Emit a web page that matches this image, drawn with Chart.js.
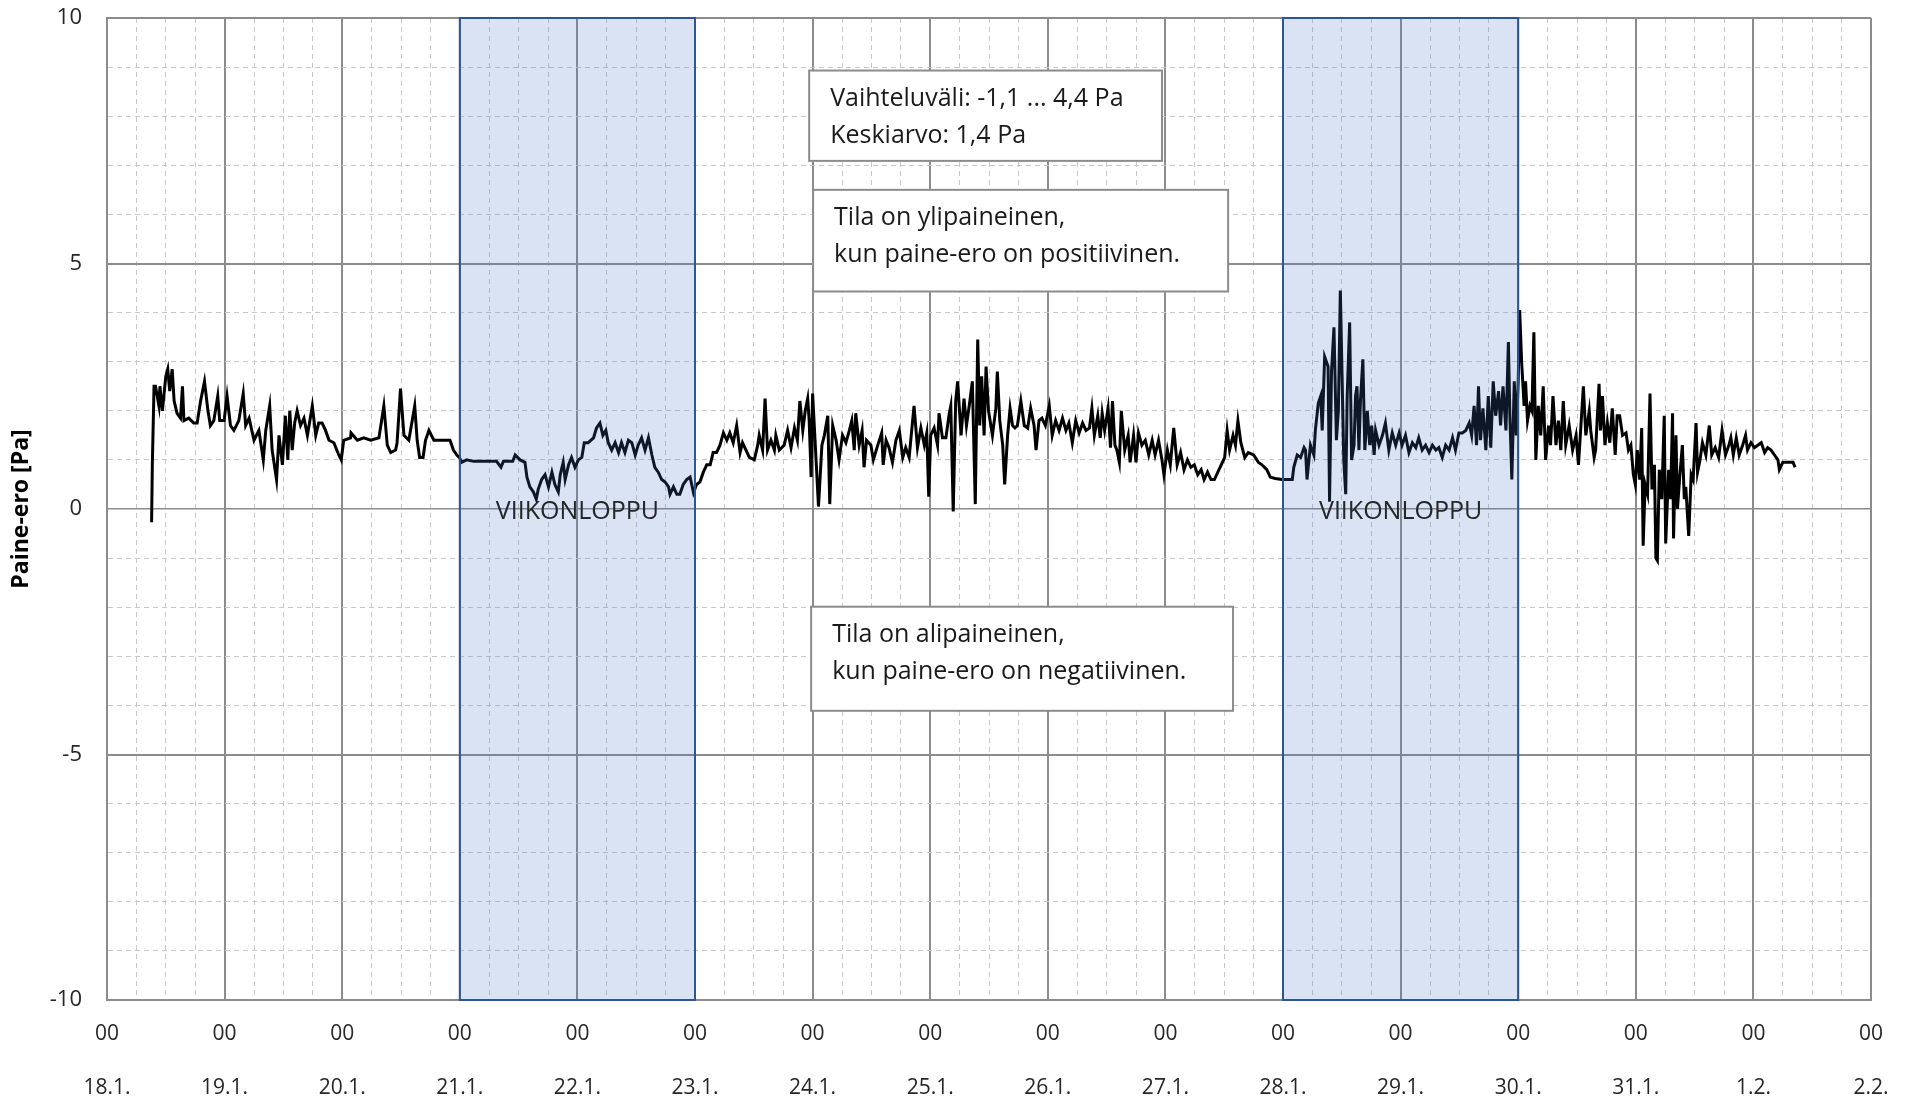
<!DOCTYPE html>
<html>
<head>
<meta charset="utf-8">
<title>Paine-ero</title>
<script src="https://cdn.jsdelivr.net/npm/chart.js@4.4.1/dist/chart.umd.min.js"></script>
<style>
  body { margin: 0; background: #ffffff; }
  #chart { display: block; }
</style>
</head>
<body>
<canvas id="chart" width="1910" height="1101"></canvas>
<script>
// measurement time, hours from 18.1. 00:00
const hours = [
  9.1, 9.25, 9.6, 9.9, 10.6, 10.8, 11.3, 12.0, 12.4, 12.8, 13.3, 13.7, 14.3, 15.0, 15.4, 15.7, 16.7, 17.7, 18.4, 19.1,
  19.9, 20.6, 21.1, 21.8, 22.6, 23.0, 23.9, 24.5, 25.2, 25.9, 26.9, 27.8, 28.3, 29.0, 30.0, 31.0, 31.9, 32.4, 33.2, 33.7,
  34.6, 35.1, 35.8, 36.4, 36.9, 37.3, 37.8, 38.3, 38.8, 39.5, 40.2, 40.9, 41.9, 42.6, 43.2, 43.9, 44.6, 45.3, 46.3, 47.3,
  47.8, 48.3, 49.7, 49.8, 51.1, 52.4, 53.8, 55.5, 56.5, 57.2, 57.9, 58.9, 59.2, 59.9, 60.6, 61.6, 62.8, 63.3, 63.8, 64.5,
  65.0, 65.7, 66.7, 68.1,
  70.0, 70.7, 71.4, 71.9, 72.4, 73.4, 74.8, 76.1, 79.5, 80.4, 80.9, 82.8, 83.3, 84.3, 85.3, 85.7, 86.3, 87.0, 87.6, 88.0,
  88.7, 89.4, 90.1, 90.8, 91.4, 92.1, 92.5, 93.1, 93.5, 94.2, 94.8, 95.5, 96.2, 96.9, 97.4, 98.2, 99.3, 99.9, 100.6, 101.2,
  101.8, 102.3, 103.0, 103.7, 104.4, 105.0, 105.7, 106.4, 107.1, 107.8, 108.4, 109.1, 109.8, 110.5, 111.2, 111.8, 112.5, 113.2, 113.9, 114.6,
  114.9, 115.6, 116.3, 116.9, 117.6, 118.3, 119.0, 119.7, 120.3, 121.0, 121.7, 122.4, 123.1, 123.7, 124.4, 125.1, 125.8, 126.5, 127.1, 127.8,
  128.5, 129.2,
  129.7, 130.4, 131.1, 132.1, 132.8, 133.1, 133.8, 134.3, 134.8, 135.5, 136.2, 136.5, 137.2, 138.2, 138.9, 139.6, 140.3, 140.9, 141.4, 142.0,
  142.5, 143.0, 143.3, 143.7, 144.0, 144.5, 145.2, 145.9, 146.4, 147.1, 147.5, 148.1, 148.8, 149.4, 150.1, 150.8, 151.5, 152.0, 152.5, 152.8,
  153.5, 154.1, 154.5, 155.0, 155.9, 156.4, 157.3, 158.1, 158.4, 159.0, 159.6, 160.3, 161.0, 161.7, 162.4, 163.0, 163.7, 164.7, 165.4, 166.1,
  166.8, 167.3, 167.7, 168.1, 168.8, 169.5, 169.8, 170.5, 171.2, 171.9, 172.2, 172.7, 173.2, 173.6, 174.3, 174.9, 175.4, 176.1, 176.6, 177.2,
  177.7, 178.1, 178.5, 179.0, 179.4, 179.9, 180.7, 181.4, 181.7, 182.2, 182.8, 183.2, 183.8, 184.3, 184.8, 185.3, 185.8, 186.5, 187.2, 187.9,
  188.5, 189.2, 189.6, 190.2,
  190.8, 191.5, 192.3, 192.9, 193.6, 194.3, 195.0, 195.7, 196.3, 197.0, 197.7, 198.4, 199.1, 199.8, 200.5, 201.0, 201.5, 202.2, 202.7, 203.1,
  203.6, 204.3, 204.8, 205.2, 205.7, 206.1, 206.6, 207.0, 207.7, 208.4, 208.8, 209.5, 210.0, 210.5, 211.2, 211.9, 212.6, 213.3, 213.9, 214.6,
  215.3, 215.7, 216.4, 217.0, 217.7, 218.4, 219.1, 219.8, 220.5, 221.2, 221.9, 222.6, 223.3, 223.9, 224.6, 225.3, 226.0, 226.7, 227.4, 228.1,
  228.6, 229.1, 229.8, 230.3, 230.8, 231.4, 232.2, 232.9, 234.0, 235.0, 235.7, 236.7, 237.4, 238.4, 239.8, 240.9,
  241.9, 242.2, 242.9, 243.6, 244.3, 244.6, 244.9, 245.6, 246.3, 246.6, 247.2, 247.7, 248.0, 248.5, 249.2, 249.5, 249.9, 250.4, 250.9, 251.3,
  251.7, 252.1, 252.4, 252.8, 253.1, 253.6, 254.0, 254.5, 254.8, 255.1, 255.5, 255.8, 256.3, 256.7, 257.2, 257.7, 258.1, 258.6, 258.9, 259.6,
  260.3, 260.9, 261.6, 262.3, 263.0, 263.7, 264.3, 265.0, 265.7, 266.4, 267.1, 267.7, 268.4, 269.1, 269.8, 270.5, 271.2, 271.8, 272.5, 273.2,
  273.9, 274.6, 275.2, 275.9, 276.6, 277.3, 278.0, 278.5, 279.0, 279.5, 279.9, 280.3, 280.8, 281.4, 281.9, 282.4, 282.9, 283.4, 284.0, 284.4,
  284.9, 285.5, 286.0, 286.3, 286.7, 287.2, 287.6, 288.0, 288.3, 288.7, 289.2, 289.5, 289.9, 290.4, 290.8, 291.2, 291.6, 292.1, 292.6, 293.1,
  293.6, 294.2, 294.6, 295.1, 295.7, 296.2, 296.7, 297.2, 297.7, 298.4, 299.1, 299.8, 300.3, 300.8, 301.3, 301.8, 302.5,
  302.8, 303.5, 303.8, 304.5, 304.8, 305.2, 305.7, 306.2, 306.7, 307.2, 307.8, 308.2, 308.7, 309.3, 310.0, 310.5, 311.0, 311.5, 311.9, 312.3,
  312.8, 313.2, 313.5, 313.9, 314.4, 314.9, 315.3, 315.8, 316.1, 316.4, 316.8, 317.3, 317.8, 318.1, 318.7, 319.1, 319.5, 319.7, 320.2, 320.5,
  321.0, 321.5, 321.9, 322.2, 322.8, 323.3, 323.7, 324.3, 324.6, 325.1, 325.6, 326.3, 327.0, 327.5, 328.2, 328.9, 329.6, 330.3, 331.0, 331.4,
  331.9, 332.5, 333.1, 333.8, 334.4, 334.8, 335.5, 336.2, 336.9, 337.6, 338.3, 338.9, 339.6, 340.3, 341.0, 341.3, 342.0, 343.0, 344.1, 344.5
];

// paine-ero [Pa]
const paine = [
  -0.27, 0.9, 2.5, 2.5, 2.1, 2.5, 2.0, 2.7, 2.85, 2.4, 2.85, 2.2, 1.95, 1.85, 2.5, 1.8, 1.85, 1.75, 1.75, 2.2,
  2.6, 2.0, 1.7, 1.8, 2.3, 1.8, 1.8, 2.3, 1.7, 1.6, 1.8, 2.35, 1.7, 1.85, 1.4, 1.6, 1.0, 1.6, 2.1, 1.2,
  0.6, 1.5, 0.9, 1.9, 1.0, 2.0, 1.2, 1.75, 2.0, 1.7, 1.85, 1.5, 2.1, 1.5, 1.75, 1.75, 1.6, 1.4, 1.35, 1.1,
  1.0, 1.4, 1.45, 1.55, 1.4, 1.45, 1.4, 1.45, 2.1, 1.3, 1.15, 1.2, 1.35, 2.45, 1.5, 1.4, 2.1, 1.4, 1.05, 1.05,
  1.4, 1.6, 1.4, 1.4,
  1.4, 1.2, 1.1, 1.05, 0.95, 1.0, 0.97, 0.97, 0.97, 0.85, 0.97, 0.97, 1.1, 1.0, 0.95, 0.65, 0.45, 0.35, 0.2, 0.4,
  0.6, 0.7, 0.45, 0.75, 0.5, 0.35, 0.7, 0.95, 0.6, 0.9, 1.05, 0.85, 1.0, 1.05, 1.35, 1.35, 1.45, 1.65, 1.75, 1.5,
  1.6, 1.35, 1.2, 1.35, 1.15, 1.35, 1.15, 1.4, 1.35, 1.1, 1.3, 1.45, 1.2, 1.45, 1.1, 0.85, 0.75, 0.6, 0.55, 0.45,
  0.3, 0.45, 0.3, 0.3, 0.5, 0.6, 0.65, 0.33, 0.5, 0.55, 0.75, 0.9, 0.9, 1.15, 1.15, 1.3, 1.55, 1.4, 1.55, 1.35,
  1.7, 1.15,
  1.35, 1.2, 1.05, 1.0, 1.3, 1.5, 1.2, 2.25, 1.2, 1.4, 1.2, 1.5, 1.2, 1.3, 1.6, 1.25, 1.65, 1.4, 2.2, 1.6,
  2.0, 2.25, 1.8, 0.65, 2.35, 1.4, 0.05, 1.3, 1.5, 1.9, 0.1, 1.7, 1.4, 1.0, 1.5, 1.35, 1.6, 1.8, 1.2, 1.95,
  1.3, 1.6, 0.85, 1.4, 1.3, 1.0, 1.3, 1.55, 0.9, 1.4, 1.25, 0.95, 1.4, 1.6, 1.05, 1.25, 1.05, 2.1, 1.25, 1.65,
  1.3, 1.55, 0.25, 1.5, 1.65, 1.3, 1.95, 1.45, 1.45, 1.95, 2.1, -0.05, 2.2, 2.6, 1.5, 2.25, 1.7, 2.2, 2.6, 0.1,
  3.45, 1.7, 2.7, 1.5, 2.9, 2.0, 1.5, 2.05, 2.8, 1.8, 1.3, 0.5, 1.5, 2.05, 1.7, 1.65, 1.7, 2.2, 1.7, 1.65,
  2.05, 1.7, 1.2, 1.8,
  1.85, 1.7, 2.1, 1.5, 1.8, 1.6, 1.85, 1.6, 1.75, 1.35, 1.8, 1.55, 1.75, 1.6, 1.65, 2.05, 1.5, 1.9, 1.45, 1.95,
  1.6, 2.05, 1.25, 2.2, 1.3, 1.2, 0.95, 2.0, 1.2, 1.5, 0.95, 1.5, 0.95, 1.55, 1.3, 1.4, 1.1, 1.4, 1.1, 1.4,
  1.0, 0.7, 1.2, 0.9, 1.65, 0.9, 1.15, 0.8, 1.0, 0.85, 0.9, 0.7, 0.8, 0.6, 0.75, 0.6, 0.6, 0.75, 0.9, 1.05,
  1.6, 1.2, 1.5, 1.3, 1.8, 1.35, 1.05, 1.15, 1.1, 0.95, 0.9, 0.8, 0.65, 0.62, 0.6, 0.6,
  0.6, 0.85, 1.1, 1.05, 1.25, 1.2, 0.6, 1.3, 1.1, 1.6, 2.15, 2.3, 1.6, 3.1, 2.9, 0.15, 2.8, 3.7, 1.4, 2.0,
  4.45, 2.5, 1.0, 0.3, 2.3, 3.8, 1.0, 1.3, 2.3, 2.5, 1.2, 2.2, 3.05, 1.2, 2.0, 1.3, 1.7, 1.1, 1.6, 1.3,
  1.5, 1.75, 1.2, 1.55, 1.3, 1.55, 1.3, 1.5, 1.15, 1.35, 1.25, 1.45, 1.2, 1.3, 1.15, 1.3, 1.2, 1.25, 1.05, 1.3,
  1.2, 1.45, 1.2, 1.55, 1.55, 1.6, 1.75, 1.5, 2.1, 1.3, 2.5, 1.4, 2.05, 1.2, 2.3, 1.25, 2.6, 1.9, 2.4, 1.7,
  2.5, 1.6, 3.4, 1.9, 0.6, 2.6, 1.5, 2.6, 4.05, 3.0, 2.1, 2.6, 1.8, 2.1, 2.0, 3.6, 1.0, 2.1, 1.5, 2.5,
  1.0, 1.7, 1.3, 2.3, 1.3, 1.8, 1.2, 2.2, 1.3, 1.7, 1.2, 1.5, 0.9, 1.7, 2.5, 1.5, 2.0,
  1.6, 1.05, 1.2, 2.55, 1.6, 2.3, 1.3, 1.75, 1.35, 2.05, 1.1, 1.9, 1.9, 1.5, 1.55, 1.2, 1.3, 0.7, 0.5, 1.2,
  0.6, 1.65, -0.75, 0.5, 0.3, 2.35, 0.4, 0.9, -1.0, -1.05, 0.8, 0.2, 1.9, -0.7, 0.8, 0.2, 1.95, -0.6, 1.5, 0.0,
  0.7, 1.3, 0.2, 0.45, -0.55, 0.7, 0.6, 1.75, 0.75, 1.0, 1.35, 1.1, 1.7, 1.1, 1.25, 1.05, 1.6, 1.1, 1.3, 1.45,
  1.1, 1.45, 1.1, 1.3, 1.5, 1.2, 1.35, 1.25, 1.3, 1.35, 1.15, 1.25, 1.2, 1.1, 1.0, 0.8, 0.95, 0.95, 0.95, 0.85
];

const dayLabels = ['18.1.', '19.1.', '20.1.', '21.1.', '22.1.', '23.1.', '24.1.', '25.1.',
  '26.1.', '27.1.', '28.1.', '29.1.', '30.1.', '31.1.', '1.2.', '2.2.'];
const hourLabel = '00';

const weekendStart = [72, 240];
const weekendEnd = [120, 288];
const weekendText = 'VIIKONLOPPU';

const notes = [
  { x1: 143.3, x2: 215.3, y1: 8.93, y2: 7.09,
    lines: ['Vaihteluväli: -1,1 ... 4,4 Pa', 'Keskiarvo: 1,4 Pa'] },
  { x1: 144.1, x2: 228.8, y1: 6.5, y2: 4.43,
    lines: ['Tila on ylipaineinen,', 'kun paine-ero on positiivinen.'] },
  { x1: 143.7, x2: 229.8, y1: -1.99, y2: -4.11,
    lines: ['Tila on alipaineinen,', 'kun paine-ero on negatiivinen.'] }
];

const FONT = '"Open Sans", "Noto Sans", sans-serif';
const MAJOR = '#8c8c8c';
const MINOR = '#c8c8c8';

const overlays = {
  id: 'overlays',
  afterDatasetsDraw(chart) {
    const { ctx, chartArea, scales: { x, y } } = chart;
    const h = chartArea.bottom - chartArea.top;
    ctx.save();

    weekendStart.forEach((start, i) => {
      const left = x.getPixelForValue(start);
      const right = x.getPixelForValue(weekendEnd[i]);
      ctx.fillStyle = 'rgba(68, 114, 196, 0.2)';
      ctx.fillRect(left, chartArea.top, right - left, h);
      ctx.strokeStyle = '#2f5597';
      ctx.lineWidth = 2;
      ctx.strokeRect(left, chartArea.top, right - left, h);
      ctx.fillStyle = '#262626';
      ctx.font = '25px ' + FONT;
      ctx.textAlign = 'center';
      ctx.textBaseline = 'alphabetic';
      ctx.fillText(weekendText, (left + right) / 2, y.getPixelForValue(-0.2));
    });

    notes.forEach(note => {
      const left = x.getPixelForValue(note.x1);
      const right = x.getPixelForValue(note.x2);
      const top = y.getPixelForValue(note.y1);
      const bottom = y.getPixelForValue(note.y2);
      ctx.fillStyle = '#ffffff';
      ctx.fillRect(left, top, right - left, bottom - top);
      ctx.strokeStyle = '#8c8c8c';
      ctx.lineWidth = 2;
      ctx.strokeRect(left, top, right - left, bottom - top);
      ctx.fillStyle = '#1a1a1a';
      ctx.font = '25px ' + FONT;
      ctx.textAlign = 'left';
      ctx.textBaseline = 'middle';
      note.lines.forEach((line, j) => {
        ctx.fillText(line, left + 21, top + 28 + j * 37);
      });
    });

    ctx.restore();
  }
};

new Chart(document.getElementById('chart'), {
  type: 'line',
  data: {
    datasets: [{
      data: hours.map((hr, i) => ({ x: hr, y: paine[i] })),
      borderColor: '#000000',
      borderWidth: 3,
      pointRadius: 0,
      tension: 0,
      fill: false
    }]
  },
  options: {
    responsive: false,
    animation: false,
    layout: { padding: { top: 18, right: 39, bottom: 0, left: 0 } },
    plugins: { legend: { display: false }, tooltip: { enabled: false } },
    scales: {
      x: {
        type: 'linear',
        min: 0,
        max: 360,
        afterFit: s => { s.height = 101; s.paddingLeft = 0; s.paddingRight = 0; },
        grid: {
          drawTicks: false,
          color: c => (c.tick && c.tick.value % 24 === 0 ? MAJOR : MINOR),
          lineWidth: c => (c.tick && c.tick.value % 24 === 0 ? 2 : 1)
        },
        border: {
          color: MAJOR,
          width: 2,
          dash: c => (c.tick && c.tick.value % 24 !== 0 ? [5, 4] : [])
        },
        ticks: {
          stepSize: 6,
          autoSkip: false,
          maxRotation: 0,
          padding: 7,
          color: '#262626',
          font: { family: FONT, size: 21, lineHeight: 2.57 },
          callback: v => (v % 24 === 0 ? [hourLabel, dayLabels[v / 24]] : '')
        }
      },
      y: {
        min: -10,
        max: 10,
        afterFit: s => { s.width = 107; s.paddingTop = 0; s.paddingBottom = 0; },
        title: {
          display: true,
          text: 'Paine-ero [Pa]',
          color: '#000000',
          padding: { top: 8, bottom: 0 },
          font: { family: FONT, size: 23, weight: 'bold' }
        },
        grid: {
          drawTicks: false,
          color: c => (c.tick && c.tick.value % 5 === 0 ? MAJOR : MINOR),
          lineWidth: c => {
            if (!c.tick) return 1;
            if (c.tick.value === 0) return 1.5;
            return c.tick.value % 5 === 0 ? 2 : 1;
          }
        },
        border: {
          color: MAJOR,
          width: 2,
          dash: c => (c.tick && c.tick.value % 5 !== 0 ? [5, 4] : [])
        },
        ticks: {
          stepSize: 1,
          autoSkip: false,
          padding: 25,
          color: '#262626',
          font: { family: FONT, size: 22 },
          callback: v => (v % 5 === 0 ? String(v) : '')
        }
      }
    }
  },
  plugins: [overlays]
});
</script>
</body>
</html>
